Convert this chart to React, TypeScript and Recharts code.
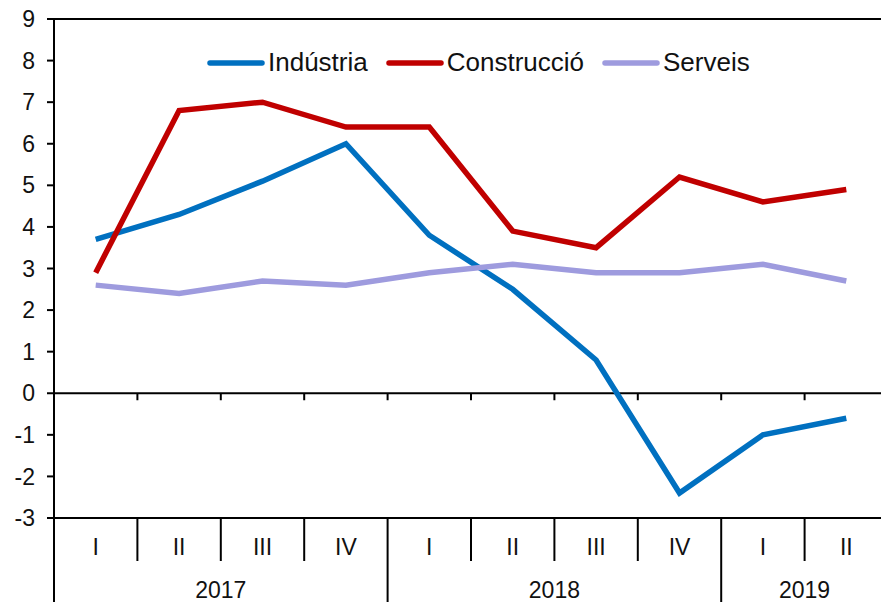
import { LineChart, Line, XAxis, YAxis, ReferenceLine, Legend } from 'recharts';

const quarters = ['I', 'II', 'III', 'IV', 'I', 'II', 'III', 'IV', 'I', 'II'];
const years = ['2017', '2017', '2017', '2017', '2018', '2018', '2018', '2018', '2019', '2019'];
const industria = [3.7, 4.3, 5.1, 6.0, 3.8, 2.5, 0.8, -2.4, -1.0, -0.6];
const construccio = [2.9, 6.8, 7.0, 6.4, 6.4, 3.9, 3.5, 5.2, 4.6, 4.9];
const serveis = [2.6, 2.4, 2.7, 2.6, 2.9, 3.1, 2.9, 2.9, 3.1, 2.7];
const yTicks = [-3, -2, -1, 0, 1, 2, 3, 4, 5, 6, 7, 8, 9];
const seriesOrder = ['Indústria', 'Construcció', 'Serveis'];

const data = quarters.map((q, i) => ({
  id: `${years[i]}-${q}`,
  quarter: q,
  year: years[i],
  industria: industria[i],
  construccio: construccio[i],
  serveis: serveis[i],
}));

const FONT = '"Liberation Sans", Arial, sans-serif';
const CHART_W = 900;
const CHART_H = 620;
const Y_AXIS_W = 54;
const MARGIN = { top: 19, right: 12, bottom: 0, left: 0 };
const PLOT_W = CHART_W - MARGIN.left - MARGIN.right - Y_AXIS_W;
const BAND = PLOT_W / quarters.length;

const QuarterTick = (props: any) => {
  const { x, y, payload } = props;
  const i = payload.index ?? data.findIndex((d) => d.id === payload.value);
  const d = data[i];
  if (!d) return null;
  const left = x - BAND / 2;
  const yearStart = i === 0 || data[i - 1].year !== d.year;
  const yearCount = data.filter((e) => e.year === d.year).length;
  return (
    <g>
      <line x1={left} y1={y} x2={left} y2={yearStart ? y + 100 : y + 43} stroke="#000" strokeWidth={2} />
      <text x={x} y={y + 37} textAnchor="middle" fontSize={23} fontFamily={FONT} fill="#111">
        {d.quarter}
      </text>
      {yearStart && (
        <text x={left + (yearCount * BAND) / 2} y={y + 80} textAnchor="middle" fontSize={23} fontFamily={FONT} fill="#111">
          {d.year}
        </text>
      )}
    </g>
  );
};

const ZeroLine = (props: any) => {
  const { x1, y1, x2 } = props;
  if (x1 == null) return null;
  const step = (x2 - x1) / quarters.length;
  return (
    <g>
      <line x1={x1} y1={y1} x2={x2} y2={y1} stroke="#000" strokeWidth={2} />
      {quarters.slice(1).map((_, k) => (
        <line key={k} x1={x1 + step * (k + 1)} y1={y1} x2={x1 + step * (k + 1)} y2={y1 + 7} stroke="#000" strokeWidth={2} />
      ))}
    </g>
  );
};

const LegendContent = (props: any) => {
  const items = [...(props.payload || [])].sort(
    (a: any, b: any) => seriesOrder.indexOf(a.value) - seriesOrder.indexOf(b.value)
  );
  return (
    <div style={{ display: 'flex', alignItems: 'center', fontFamily: FONT, fontSize: 26, color: '#111' }}>
      {items.map((it: any) => (
        <div key={it.value} style={{ display: 'flex', alignItems: 'center', marginRight: 18 }}>
          <svg width={58} height={10} style={{ marginRight: 3 }}>
            <line x1={3} y1={5} x2={55} y2={5} stroke={it.color} strokeWidth={5.5} strokeLinecap="round" />
          </svg>
          <span>{it.value}</span>
        </div>
      ))}
    </div>
  );
};

export default function App() {
  return (
    <div style={{ position: 'absolute', left: 0, top: 0, width: 881, height: 602, overflow: 'hidden', background: '#fff' }}>
      <LineChart width={CHART_W} height={CHART_H} data={data} margin={MARGIN}>
        <XAxis
          dataKey="id"
          scale="band"
          interval={0}
          height={CHART_H - MARGIN.top - 499}
          tickSize={0}
          tickMargin={0}
          tickLine={false}
          axisLine={{ stroke: '#000', strokeWidth: 2 }}
          tick={<QuarterTick />}
        />
        <YAxis
          domain={[-3, 9]}
          ticks={yTicks}
          interval={0}
          width={Y_AXIS_W}
          tickSize={7}
          tickMargin={12}
          axisLine={{ stroke: '#000', strokeWidth: 2 }}
          tickLine={{ stroke: '#000', strokeWidth: 2 }}
          tick={{ fontSize: 23, fontFamily: FONT, fill: '#111' }}
        />
        <ReferenceLine y={9} stroke="#000" strokeWidth={2} />
        <ReferenceLine y={0} shape={<ZeroLine />} />
        <Legend
          layout="vertical"
          align="center"
          verticalAlign="middle"
          wrapperStyle={{ position: 'absolute', top: 47, left: 207, width: 'auto' }}
          content={<LegendContent />}
        />
        <Line dataKey="industria" name="Indústria" stroke="#0070C0" strokeWidth={5.5} dot={false} isAnimationActive={false} />
        <Line dataKey="construccio" name="Construcció" stroke="#C00000" strokeWidth={5.5} dot={false} isAnimationActive={false} />
        <Line dataKey="serveis" name="Serveis" stroke="#9E9BDE" strokeWidth={5.5} dot={false} isAnimationActive={false} />
      </LineChart>
    </div>
  );
}
